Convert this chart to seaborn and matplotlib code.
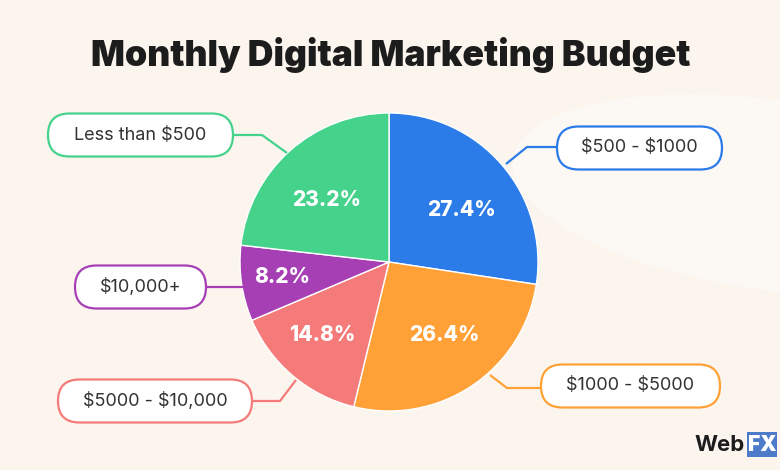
import matplotlib
matplotlib.use("Agg")
import matplotlib.pyplot as plt
from matplotlib.patches import FancyBboxPatch, Rectangle, Ellipse
import seaborn as sns

categories = ["$500 - $1000", "$1000 - $5000", "$5000 - $10,000", "$10,000+", "Less than $500"]
shares = [27.4, 26.4, 14.8, 8.2, 23.2]
colors = ["#2B7BE9", "#FFA136", "#F57A7A", "#A63EB4", "#45D28B"]
title = "Monthly Digital Marketing Budget"

sns.set_theme(style="white")
plt.rcParams['font.family'] = ['Inter', 'DejaVu Sans']

W, H = 780, 470
BG = "#FBF5EE"
fig = plt.figure(figsize=(W / 100, H / 100), dpi=100, facecolor=BG)
ax = fig.add_axes([0, 0, 1, 1])
ax.set_facecolor(BG)

def Y(py):
    return H - py

cx, cy, r = 389, Y(262), 149
wedges, _ = ax.pie(shares, colors=colors, startangle=90, counterclock=False,
                   center=(cx, cy), radius=r, frame=True,
                   wedgeprops=dict(edgecolor="white", linewidth=1.0))
ax.set_xlim(0, W)
ax.set_ylim(0, H)
ax.set_aspect("equal")
ax.axis("off")

# subtle lighter wave in the background on the right
ax.add_patch(Ellipse((770, Y(195)), 520, 190, angle=-8, facecolor="#FCF8F3",
                     edgecolor="none", zorder=0))

# percentage labels
pct_pos = [(461, 210), (444, 335), (322, 335), (282, 277), (327, 200)]
for v, (px, py) in zip(shares, pct_pos):
    ax.text(px, Y(py), f"{v:.1f}%", ha="center", va="center", color="white",
            fontsize=15, fontweight="heavy", zorder=5)

# label boxes: (x0, x1, y_center), connector path
boxes = [
    (557, 722, 148, [(557, 147), (527, 147), (506, 164)]),
    (541, 720, 386, [(541, 388), (507, 388), (490, 375)]),
    (58, 252, 401, [(252, 401), (280, 401), (296, 380)]),
    (75, 206, 287, [(206, 287), (244, 287)]),
    (48, 233, 135, [(233, 135), (262, 135), (287, 153)]),
]
bh = 43
for cat, col, (x0, x1, yc, path) in zip(categories, colors, boxes):
    xs = [p[0] for p in path]
    ys = [Y(p[1]) for p in path]
    ax.plot(xs, ys, color=col, lw=1.6, zorder=3, solid_capstyle="butt")
    box = FancyBboxPatch((x0, Y(yc) - bh / 2), x1 - x0, bh,
                         boxstyle=f"round,pad=0,rounding_size={bh/2}",
                         facecolor="white", edgecolor=col, linewidth=1.6, zorder=4)
    ax.add_patch(box)
    ax.text((x0 + x1) / 2, Y(yc), cat, ha="center", va="center",
            color="#333333", fontsize=13, zorder=5, parse_math=False)

ax.text(391, Y(55), title, ha="center", va="center", color="#1C1C1C",
        fontsize=25.6, fontweight="black", zorder=5)

# logo
ax.text(745, Y(445), "Web", ha="right", va="center", color="#1C1C1C",
        fontsize=16, fontweight="bold", zorder=5)
ax.add_patch(Rectangle((747, Y(457)), 30, 25, facecolor="#4E7BC9", edgecolor="none", zorder=4))
ax.text(762, Y(445), "FX", ha="center", va="center", color="white",
        fontsize=15, fontweight="black", zorder=5)

fig.savefig("out.png", dpi=100, facecolor=BG)
